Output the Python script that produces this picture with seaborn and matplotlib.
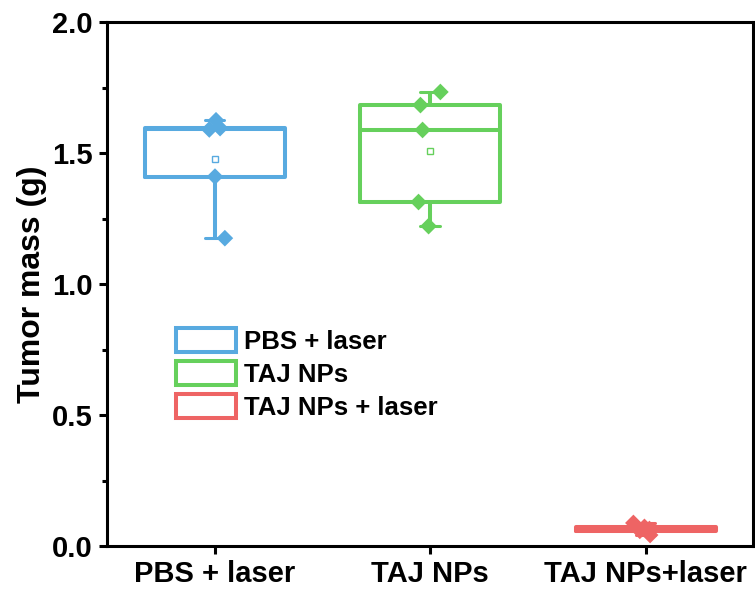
import numpy as np
import pandas as pd
import matplotlib
matplotlib.use("Agg")
import matplotlib.pyplot as plt
from matplotlib.patches import Patch
from matplotlib.ticker import MultipleLocator, FormatStrFormatter
import seaborn as sns

# Tumor mass per mouse (g), five mice per group
groups = ["PBS + laser", "TAJ NPs", "TAJ NPs+laser"]
legend_labels = ["PBS + laser", "TAJ NPs", "TAJ NPs + laser"]
pbs_laser = [1.625, 1.595, 1.59, 1.41, 1.175]
taj_nps = [1.733, 1.683, 1.588, 1.313, 1.221]
taj_nps_laser = [0.088, 0.073, 0.065, 0.058, 0.042]
colors = ["#58AAE0", "#66D05C", "#EE6464"]

df = pd.DataFrame({
    "group": np.repeat(groups, 5),
    "mass": pbs_laser + taj_nps + taj_nps_laser,
})

sns.set_style("ticks")
plt.rcParams["font.family"] = ["Liberation Sans", "DejaVu Sans"]
plt.rcParams["font.weight"] = "bold"
plt.rcParams["text.color"] = "black"
plt.rcParams["axes.labelcolor"] = "black"

fig = plt.figure(figsize=(7.55, 5.97), dpi=100)
ax = fig.add_axes([0.1417, 0.0854, 0.856, 0.8777])

lw = 2.9
sns.boxplot(
    data=df, x="group", y="mass", hue="group", order=groups, hue_order=groups,
    palette=colors, width=0.65, whis=(0, 100), showfliers=False, fill=False,
    showmeans=True, linewidth=lw, legend=False, ax=ax,
    meanprops=dict(marker="s", markerfacecolor="white", markersize=4.5,
                   markeredgewidth=1.0),
)

# colour the mean markers and shorten the whisker caps
for cont, c in zip(ax.containers, colors):
    for m in cont.means:
        m.set_markeredgecolor(c)
        m.set_zorder(3)
    for cap in cont.caps:
        xd = np.asarray(cap.get_xdata(), dtype=float)
        mid = xd.mean()
        cap.set_xdata([mid - 0.045, mid + 0.045])
        cap.set_linewidth(2.2)

np.random.seed(3)
sns.stripplot(
    data=df, x="group", y="mass", hue="group", order=groups, hue_order=groups,
    palette=colors, marker="D", size=8.5, jitter=0.06, linewidth=0,
    legend=False, ax=ax, zorder=4,
)

ax.set_xlim(-0.5, 2.5)
ax.set_ylim(0, 2.0)
ax.yaxis.set_major_locator(MultipleLocator(0.5))
ax.yaxis.set_minor_locator(MultipleLocator(0.25))
ax.yaxis.set_major_formatter(FormatStrFormatter("%.1f"))

ax.set_xlabel("")
ax.set_ylabel("Tumor mass (g)", fontsize=23, fontweight="bold", labelpad=4,
              color="black")
for s in ax.spines.values():
    s.set_visible(True)
    s.set_linewidth(2.2)
    s.set_color("black")
ax.tick_params(axis="both", which="major", direction="out", length=6, width=2.2,
               labelsize=21, color="black", labelcolor="black", pad=4)
ax.tick_params(axis="y", which="minor", direction="out", length=3.5, width=2.2,
               color="black")
ax.tick_params(top=False, right=False)
for t in ax.get_xticklabels() + ax.get_yticklabels():
    t.set_fontweight("bold")

handles = [Patch(facecolor="white", edgecolor=c, linewidth=lw) for c in colors]
leg = ax.legend(handles, legend_labels, loc="upper left",
                bbox_to_anchor=(0.091, 0.435), frameon=False,
                prop=dict(size=18.5, weight="bold"),
                handlelength=2.35, handleheight=1.05, labelspacing=0.28,
                handletextpad=0.3, borderaxespad=0)
for t in leg.get_texts():
    t.set_color("black")

fig.savefig("out.png", dpi=100)
